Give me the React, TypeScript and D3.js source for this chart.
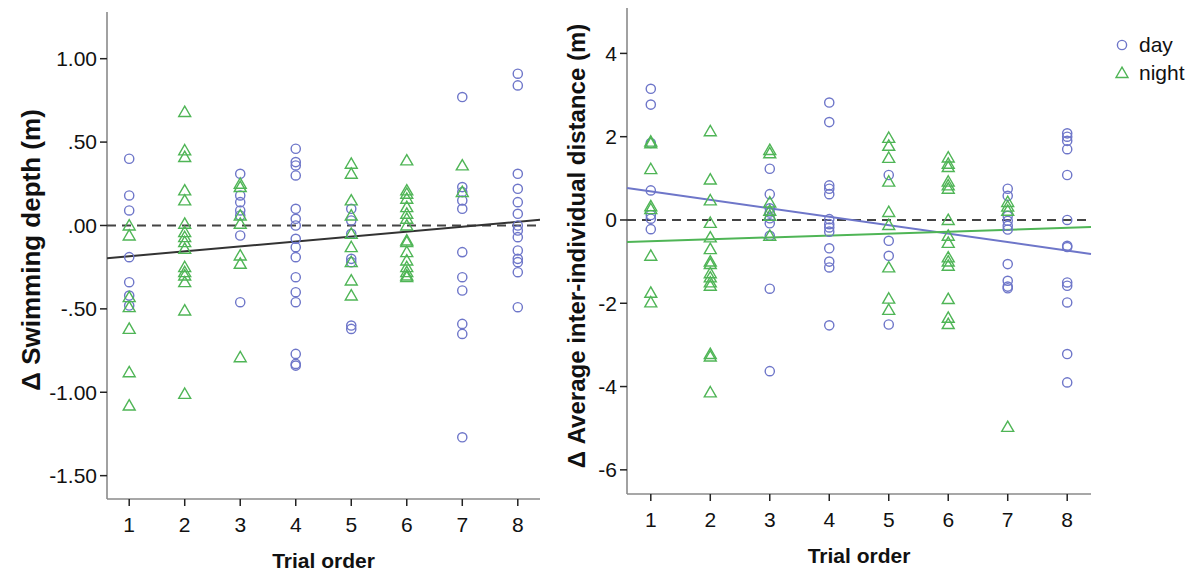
import React, { useRef, useEffect } from 'react';
import * as d3 from 'd3';

// trial order 1..8, one list of values per trial
const trials = [1, 2, 3, 4, 5, 6, 7, 8];

const depthDay = [
  [0.40, 0.18, 0.09, -0.19, -0.34, -0.42, -0.48],
  [],
  [0.31, 0.18, 0.14, 0.09, 0.06, -0.06, -0.46],
  [0.46, 0.38, 0.36, 0.30, 0.10, 0.04, 0.0, -0.08, -0.13, -0.19, -0.31, -0.40, -0.46, -0.77, -0.83, -0.84],
  [0.10, 0.03, -0.05, -0.20, -0.22, -0.60, -0.62],
  [],
  [0.77, 0.23, 0.20, 0.15, 0.10, -0.16, -0.31, -0.39, -0.59, -0.65, -1.27],
  [0.91, 0.84, 0.31, 0.22, 0.14, 0.07, 0.0, -0.03, -0.07, -0.15, -0.20, -0.22, -0.28, -0.49],
];

const depthNight = [
  [0.0, -0.06, -0.43, -0.49, -0.62, -0.88, -1.08],
  [0.68, 0.45, 0.41, 0.21, 0.15, 0.01, -0.04, -0.07, -0.10, -0.14, -0.25, -0.28, -0.30, -0.34, -0.51, -1.01],
  [0.25, 0.23, 0.06, 0.01, -0.18, -0.23, -0.79],
  [],
  [0.37, 0.31, 0.15, 0.06, -0.05, -0.13, -0.22, -0.33, -0.42],
  [0.39, 0.21, 0.19, 0.16, 0.11, 0.07, 0.04, 0.0, -0.09, -0.10, -0.16, -0.21, -0.25, -0.28, -0.30, -0.31],
  [0.36, 0.20],
  [],
];

const distDay = [
  [3.15, 2.77, 1.85, 0.71, 0.12, 0.03, -0.22],
  [],
  [1.23, 0.62, 0.28, 0.18, 0.04, -0.08, -0.38, -1.65, -3.63],
  [2.82, 2.35, 0.83, 0.75, 0.62, 0.02, -0.10, -0.18, -0.28, -0.68, -1.0, -1.14, -2.53],
  [1.08, -0.50, -0.86, -2.51],
  [],
  [0.75, 0.58, 0.10, -0.02, -0.14, -0.23, -1.06, -1.46, -1.60, -1.64],
  [2.08, 2.0, 1.90, 1.70, 1.08, 0.0, -0.62, -0.65, -1.50, -1.58, -1.98, -3.22, -3.90],
];

const distNight = [
  [1.88, 1.84, 1.22, 0.33, 0.26, -0.86, -1.75, -1.98],
  [2.13, 0.97, 0.47, -0.07, -0.42, -0.70, -1.00, -1.06, -1.28, -1.38, -1.50, -1.58, -3.22, -3.28, -4.14],
  [1.68, 1.60, 0.42, 0.22, 0.10, -0.38],
  [],
  [1.97, 1.78, 1.49, 0.92, 0.19, -0.12, -1.14, -1.89, -2.16],
  [1.50, 1.35, 1.27, 0.92, 0.83, 0.75, 0.0, -0.38, -0.55, -0.90, -1.0, -1.10, -1.90, -2.35, -2.50],
  [0.43, 0.32, 0.22, -4.97],
  [],
];

// linear fits: [intercept, slope]
const fitDepth = [-0.214, 0.0295];
const fitDistDay = [0.89, -0.203];
const fitDistNight = [-0.557, 0.046];

const depthTicks = [1, 0.5, 0, -0.5, -1, -1.5];
const depthTickLabels = ['1.00', '.50', '.00', '-.50', '-1.00', '-1.50'];
const distTicks = [4, 2, 0, -2, -4, -6];

const legendItems = ['day', 'night'];

const BLUE = '#6e76c9';
const GREEN = '#4fb556';
const FONT = '"Liberation Sans", Arial, sans-serif';

const App = () => {
  const svgRef = useRef<SVGSVGElement>(null);

  useEffect(() => {
    const svg = d3.select(svgRef.current);
    svg.selectAll('*').remove();
    svg.style('font-family', FONT);

    const tri = d3.symbol().type(d3.symbolTriangle).size(62);

    function panel(opts) {
      const { x0, x1, yTop, yBot, yDomain, ticks, tickLabels, day, night, fits,
        yTitle, titleX, titleY, titleSize, xTitleY } = opts;
      const x = d3.scaleLinear().domain([0.6, 8.4]).range([x0, x1]);
      const y = d3.scaleLinear().domain(yDomain).range([yBot, yTop]);
      const g = svg.append('g');

      // axes
      g.append('line').attr('x1', x0).attr('x2', x0).attr('y1', yTop).attr('y2', yBot)
        .attr('stroke', '#8a8a8a').attr('stroke-width', 1.6);
      g.append('line').attr('x1', x0).attr('x2', x1).attr('y1', yBot).attr('y2', yBot)
        .attr('stroke', '#8a8a8a').attr('stroke-width', 1.6);

      ticks.forEach((t, i) => {
        g.append('line').attr('x1', x0 - 7).attr('x2', x0).attr('y1', y(t)).attr('y2', y(t))
          .attr('stroke', '#222').attr('stroke-width', 1.5);
        g.append('text').attr('x', x0 - 10).attr('y', y(t)).attr('dy', '0.35em')
          .attr('text-anchor', 'end').style('font-size', '21px').attr('fill', '#111')
          .text(tickLabels ? tickLabels[i] : String(t));
      });

      trials.forEach(t => {
        g.append('line').attr('x1', x(t)).attr('x2', x(t)).attr('y1', yBot).attr('y2', yBot + 7)
          .attr('stroke', '#222').attr('stroke-width', 1.5);
        g.append('text').attr('x', x(t)).attr('y', yBot + 26).attr('dy', '0.35em')
          .attr('text-anchor', 'middle').style('font-size', '21px').attr('fill', '#111')
          .text(t);
      });

      // reference line at 0
      g.append('line').attr('x1', x0).attr('x2', x1).attr('y1', y(0)).attr('y2', y(0))
        .attr('stroke', '#444').attr('stroke-width', 2).attr('stroke-dasharray', '9,6');

      // fit lines
      fits.forEach(f => {
        g.append('line')
          .attr('x1', x(0.6)).attr('y1', y(f.c[0] + f.c[1] * 0.6))
          .attr('x2', x(8.4)).attr('y2', y(f.c[0] + f.c[1] * 8.4))
          .attr('stroke', f.color).attr('stroke-width', 2);
      });

      const dayPts = day.flatMap((vals, i) => vals.map(v => [trials[i], v]));
      const nightPts = night.flatMap((vals, i) => vals.map(v => [trials[i], v]));

      g.append('g').selectAll('circle').data(dayPts).join('circle')
        .attr('cx', d => x(d[0])).attr('cy', d => y(d[1])).attr('r', 4.6)
        .attr('fill', 'none').attr('stroke', BLUE).attr('stroke-width', 1.4);

      g.append('g').selectAll('path').data(nightPts).join('path')
        .attr('d', tri)
        .attr('transform', d => `translate(${x(d[0])},${y(d[1]) + 1})`)
        .attr('fill', 'none').attr('stroke', GREEN).attr('stroke-width', 1.4);

      // titles
      g.append('text')
        .attr('transform', `translate(${titleX},${titleY}) rotate(-90)`)
        .attr('text-anchor', 'middle').attr('dy', '0.35em')
        .style('font-size', titleSize).style('font-weight', 'bold').attr('fill', '#111')
        .text(yTitle);
      g.append('text').attr('x', (x0 + x1) / 2).attr('y', xTitleY).attr('dy', '0.35em')
        .attr('text-anchor', 'middle')
        .style('font-size', '21px').style('font-weight', 'bold').attr('fill', '#111')
        .text('Trial order');
    }

    panel({
      x0: 107, x1: 540, yTop: 12, yBot: 499, yDomain: [-1.64, 1.28],
      ticks: depthTicks, tickLabels: depthTickLabels,
      day: depthDay, night: depthNight,
      fits: [{ c: fitDepth, color: '#333' }],
      yTitle: 'Δ Swimming depth (m)', titleX: 31, titleY: 250, titleSize: '26px', xTitleY: 561,
    });

    panel({
      x0: 627, x1: 1091, yTop: 8, yBot: 494, yDomain: [-6.58, 5.09],
      ticks: distTicks, tickLabels: null,
      day: distDay, night: distNight,
      fits: [{ c: fitDistDay, color: BLUE }, { c: fitDistNight, color: GREEN }],
      yTitle: 'Δ Average inter-individual distance (m)', titleX: 577, titleY: 246, titleSize: '24px', xTitleY: 556,
    });

    // legend
    const lg = svg.append('g');
    legendItems.forEach((name, i) => {
      const ly = 45 + i * 28;
      if (i === 0) {
        lg.append('circle').attr('cx', 1122).attr('cy', ly).attr('r', 4.6)
          .attr('fill', 'none').attr('stroke', BLUE).attr('stroke-width', 1.4);
      } else {
        lg.append('path').attr('d', tri).attr('transform', `translate(1122,${ly + 1})`)
          .attr('fill', 'none').attr('stroke', GREEN).attr('stroke-width', 1.4);
      }
      lg.append('text').attr('x', 1139).attr('y', ly).attr('dy', '0.35em')
        .style('font-size', '21px').attr('fill', '#111').text(name);
    });
  }, []);

  return (
    <svg ref={svgRef} width={1197} height={576}
      style={{ position: 'absolute', left: 0, top: 0, background: '#fff' }} />
  );
};

export default App;
